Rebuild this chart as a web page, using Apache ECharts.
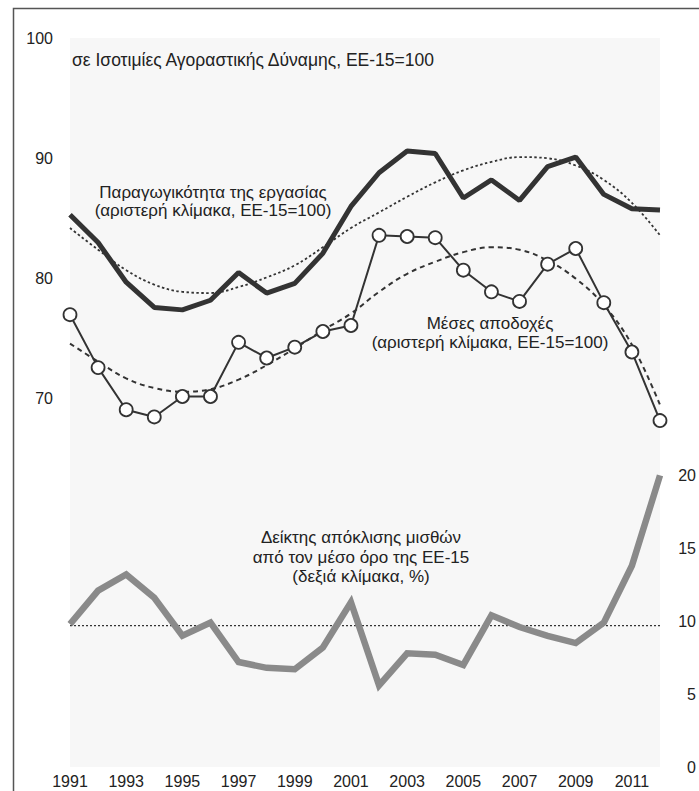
<!DOCTYPE html>
<html><head><meta charset="utf-8">
<script src="https://cdn.jsdelivr.net/npm/echarts@6/dist/echarts.min.js"></script>
<style>html,body{margin:0;padding:0;background:#fff}#c{width:699px;height:791px}</style>
</head><body><div id="c"></div>
<script>
// ---- data ----
const years = ['1991','1992','1993','1994','1995','1996','1997','1998','1999','2000','2001','2002','2003','2004','2005','2006','2007','2008','2009','2010','2011','2012'];
const productivity = [85.3, 83.0, 79.7, 77.6, 77.4, 78.2, 80.5, 78.8, 79.6, 82.1, 86.0, 88.8, 90.6, 90.4, 86.7, 88.2, 86.5, 89.3, 90.1, 87.0, 85.8, 85.7];
const productivityTrend = [84.2, 82.4, 80.7, 79.5, 78.9, 78.8, 79.3, 80.1, 81.1, 82.6, 84.2, 85.5, 86.8, 88.0, 89.0, 89.7, 90.1, 90.0, 89.4, 88.2, 86.3, 83.6];
const wages = [77.0, 72.6, 69.1, 68.5, 70.2, 70.2, 74.7, 73.4, 74.3, 75.6, 76.1, 83.6, 83.5, 83.4, 80.7, 78.9, 78.1, 81.2, 82.5, 78.0, 73.9, 68.2];
const wagesTrend = [74.6, 73.1, 71.7, 70.9, 70.6, 70.8, 71.6, 72.8, 74.2, 75.7, 77.1, 78.9, 80.4, 81.4, 82.2, 82.6, 82.4, 81.5, 80.0, 77.8, 74.5, 69.5];
const deviation = [9.8, 12.1, 13.2, 11.6, 9.0, 9.9, 7.2, 6.8, 6.7, 8.2, 11.3, 5.6, 7.8, 7.7, 7.0, 10.4, 9.6, 9.0, 8.5, 9.9, 13.8, 20.0];
const deviationMean = [9.7, 9.7, 9.7, 9.7, 9.7, 9.7, 9.7, 9.7, 9.7, 9.7, 9.7, 9.7, 9.7, 9.7, 9.7, 9.7, 9.7, 9.7, 9.7, 9.7, 9.7, 9.7];
const leftTicks = [70, 80, 90, 100];
const rightTicks = [0, 5, 10, 15, 20];
const subtitle = 'σε Ισοτιμίες Αγοραστικής Δύναμης, ΕΕ-15=100';
const labelProd = ['Παραγωγικότητα της εργασίας', '(αριστερή κλίμακα, ΕΕ-15=100)'];
const labelWages = ['Μέσες αποδοχές', '(αριστερή κλίμακα, ΕΕ-15=100)'];
const labelDev = ['Δείκτης απόκλισης μισθών', 'από τον μέσο όρο της ΕΕ-15', '(δεξιά κλίμακα, %)'];

// ---- chart ----
const FONT = '"Liberation Sans", Arial, Helvetica, sans-serif';
const TXT = '#222';
const chart = echarts.init(document.getElementById('c'), null, {renderer: 'svg'});

function textEl(t, x, y, align, size) {
  return {type: 'text', silent: true, z: 10,
    style: {text: t, x: x, y: y, textAlign: align || 'center', textVerticalAlign: 'middle',
      font: (size || 17) + 'px ' + FONT, fill: TXT}};
}
const graphics = [
  {type: 'polyline', silent: true, z: 100,
    shape: {points: [[13.5, 791], [13.5, 8.5], [699, 8.5]]},
    style: {fill: null, stroke: '#555', lineWidth: 1.5}},
  textEl(subtitle, 72, 60, 'left', 17.5),
  textEl(labelProd[0], 213, 192), textEl(labelProd[1], 213, 210),
  textEl(labelWages[0], 490, 323), textEl(labelWages[1], 490, 342),
  textEl(labelDev[0], 361, 537), textEl(labelDev[1], 361, 557), textEl(labelDev[2], 361, 576)
];

const axisLabelBase = {fontSize: 16, color: TXT, fontFamily: FONT};
const option = {
  animation: false,
  backgroundColor: '#fff',
  graphic: {elements: graphics},
  grid: {left: 70, right: 38, top: 38, bottom: 24, show: true, backgroundColor: '#f7f7f7', borderWidth: 0},
  xAxis: {type: 'category', data: years, boundaryGap: false,
    axisLine: {show: false}, axisTick: {show: false}, splitLine: {show: false},
    axisLabel: {interval: 1, margin: 6, fontSize: 16, color: TXT, fontFamily: FONT}},
  yAxis: [
    {type: 'value', min: 39.4, max: 100, axisLine: {show: false}, axisTick: {show: false}, splitLine: {show: false},
      axisLabel: Object.assign({customValues: leftTicks, margin: 17}, axisLabelBase)},
    {type: 'value', min: 0, max: 50, position: 'right', axisLine: {show: false}, axisTick: {show: false}, splitLine: {show: false},
      axisLabel: Object.assign({customValues: rightTicks, margin: 36, align: 'right'}, axisLabelBase)}
  ],
  series: [
    {name: 'mean', type: 'line', yAxisIndex: 1, data: deviationMean, symbol: 'none', silent: true,
      lineStyle: {color: '#333', width: 1.2, type: [2, 2]}},
    {name: 'deviation', type: 'line', yAxisIndex: 1, data: deviation, symbol: 'none',
      lineStyle: {color: '#8a8a8a', width: 6.5, join: 'miter'}},
    {name: 'prodTrend', type: 'line', yAxisIndex: 0, data: productivityTrend, symbol: 'none', smooth: 0.4,
      lineStyle: {color: '#333', width: 1.8, type: [2.5, 2.5]}},
    {name: 'wageTrend', type: 'line', yAxisIndex: 0, data: wagesTrend, symbol: 'none', smooth: 0.4,
      lineStyle: {color: '#333', width: 2, type: [5, 4]}},
    {name: 'productivity', type: 'line', yAxisIndex: 0, data: productivity, symbol: 'none',
      lineStyle: {color: '#333', width: 5}},
    {name: 'wages', type: 'line', yAxisIndex: 0, data: wages, symbol: 'circle', symbolSize: 13, showAllSymbol: true,
      lineStyle: {color: '#333', width: 2},
      itemStyle: {color: '#fff', borderColor: '#333', borderWidth: 1.8}}
  ]
};
chart.setOption(option);
</script>
</body></html>
